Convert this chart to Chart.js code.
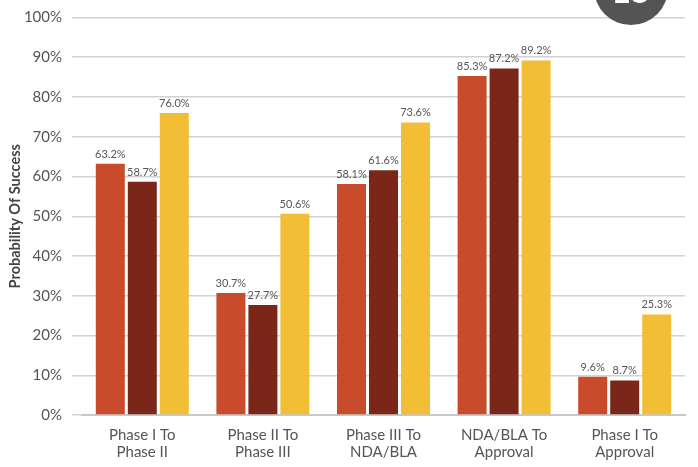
<!DOCTYPE html>
<html>
<head>
<meta charset="utf-8">
<script src="https://cdn.jsdelivr.net/npm/chart.js@4"></script>
<style>
  html, body { margin: 0; padding: 0; background: #fff; }
  #wrap { width: 698px; height: 467px; position: relative; }
</style>
</head>
<body>
<div id="wrap"><canvas id="successChart"></canvas></div>
<script>
// chart values
var categories = [['Phase I To', 'Phase II'], ['Phase II To', 'Phase III'], ['Phase III To', 'NDA/BLA'], ['NDA/BLA To', 'Approval'], ['Phase I To', 'Approval']];
var seriesA = [63.2, 30.7, 58.1, 85.3, 9.6];
var seriesB = [58.7, 27.7, 61.6, 87.2, 8.7];
var seriesC = [76.0, 50.6, 73.6, 89.2, 25.3];
var badgeText = '15';

// value labels above each bar
var barLabels = {
    id: 'barLabels',
    afterDatasetsDraw: function(chart) {
        var ctx = chart.ctx;
        ctx.save();
        ctx.font = '11px Lato';
        ctx.fillStyle = '#555';
        ctx.textAlign = 'center';
        ctx.textBaseline = 'bottom';
        chart.data.datasets.forEach(function(ds, i) {
            chart.getDatasetMeta(i).data.forEach(function(bar, j) {
                ctx.fillText(ds.data[j].toFixed(1) + '%', bar.x, bar.y - 4);
            });
        });
        ctx.restore();
    }
};

// dark page-number badge in the corner
var badge = {
    id: 'badge',
    afterDraw: function(chart) {
        var ctx = chart.ctx;
        ctx.save();
        ctx.fillStyle = '#545454';
        ctx.beginPath();
        ctx.arc(631, -12, 37, 0, Math.PI * 2);
        ctx.fill();
        ctx.fillStyle = '#fff';
        ctx.font = 'bold 34px Lato';
        ctx.textAlign = 'center';
        ctx.textBaseline = 'alphabetic';
        ctx.fillText(badgeText, 631, 3);
        ctx.restore();
    }
};

var ctx = document.getElementById('successChart').getContext('2d');
var chart = new Chart(ctx, {
    type: 'bar',
    data: {
        labels: categories,
        datasets: [
            { data: seriesA, backgroundColor: '#C84C2C' },
            { data: seriesB, backgroundColor: '#7A2619' },
            { data: seriesC, backgroundColor: '#F2BE35' }
        ]
    },
    options: {
        responsive: true,
        maintainAspectRatio: false,
        animation: false,
        categoryPercentage: 0.796,
        barPercentage: 0.906,
        layout: { padding: { top: 14, right: 13, bottom: 3, left: 0 } },
        plugins: {
            legend: { display: false },
            tooltip: { enabled: false }
        },
        scales: {
            x: {
                grid: { display: false },
                border: { color: '#c8c8c8', width: 2 },
                ticks: { color: '#555', font: { family: 'Lato', size: 15, lineHeight: 1.1 }, padding: 4, maxRotation: 0 }
            },
            y: {
                min: 0,
                max: 100,
                afterFit: function(scale) { scale.width = 82; },
                grid: { color: '#d2d2d2', lineWidth: 1.5, tickLength: 10 },
                border: { display: false },
                ticks: {
                    stepSize: 10,
                    color: '#555',
                    font: { family: 'Lato', size: 15, lineHeight: 1 },
                    padding: 10,
                    callback: function(v) { return v + '%'; }
                },
                title: {
                    display: true,
                    text: 'Probability Of Success',
                    color: '#444',
                    font: { family: 'Lato', size: 14.5, weight: 'bold' },
                    padding: { top: 7, bottom: 0 }
                }
            }
        }
    },
    plugins: [barLabels, badge]
});
</script>
</body>
</html>
